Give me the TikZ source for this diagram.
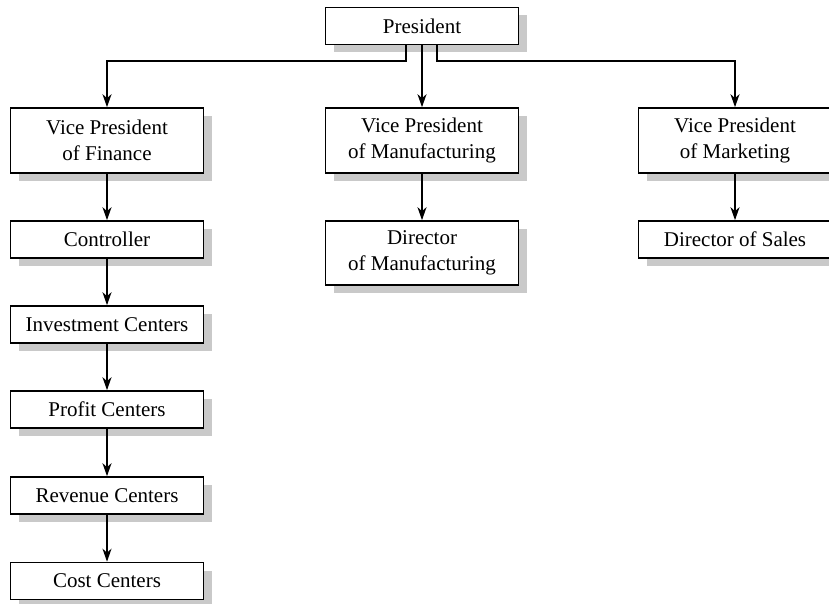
\documentclass[tikz,border=0pt]{standalone}
\usepackage{fontspec}
\setmainfont{Liberation Serif}
\usepackage{tikz}
\usetikzlibrary{arrows.meta,calc,shadows}
\tikzset{
  unit/.style={draw,line width=1.6pt,fill=white,minimum width=193pt,minimum height=37pt,
    align=center,font=\fontsize{21}{26}\selectfont,
    drop shadow={shadow xshift=8pt,shadow yshift=-8pt,fill=black!21,opacity=1}},
  tall/.style={unit,minimum height=65pt},
  link/.style={-{Stealth[length=13pt,width=9pt,inset=4pt]},line width=1.8pt}
}

\begin{document}
\begin{tikzpicture}[x=1pt,y=-1pt]
\useasboundingbox (0,0) rectangle (829,604);
\node[unit] (pres) at (422,26) {President};
\node[tall] (vpf) at (107,140.5) {Vice President\\of Finance};
\node[tall] (vpm) at (422,140.5) {Vice President\\of Manufacturing};
\node[tall] (vpk) at (735,140.5) {Vice President\\of Marketing};
\node[unit] (ctrl) at (107,239.5) {Controller};
\node[tall,minimum height=64pt] (dman) at (422,253) {Director\\of Manufacturing};
\node[unit] (dsal) at (735,239.5) {Director of Sales};
\node[unit] (inv) at (107,324.5) {Investment Centers};
\node[unit] (prof) at (107,409.5) {Profit Centers};
\node[unit] (rev) at (107,495.5) {Revenue Centers};
\node[unit] (cost) at (107,581) {Cost Centers};
\coordinate (bl) at (406,61);
\coordinate (br) at (437,61);
\draw[link] (bl |- pres.south) -- (bl) -| (vpf.north);
\draw[link] (br |- pres.south) -- (br) -| (vpk.north);
\draw[link] (pres) -- (vpm);
\draw[link] (vpf) -- (ctrl);
\draw[link] (vpm) -- (dman);
\draw[link] (vpk) -- (dsal);
\draw[link] (ctrl) -- (inv);
\draw[link] (inv) -- (prof);
\draw[link] (prof) -- (rev);
\draw[link] (rev) -- (cost);
\end{tikzpicture}
\end{document}
